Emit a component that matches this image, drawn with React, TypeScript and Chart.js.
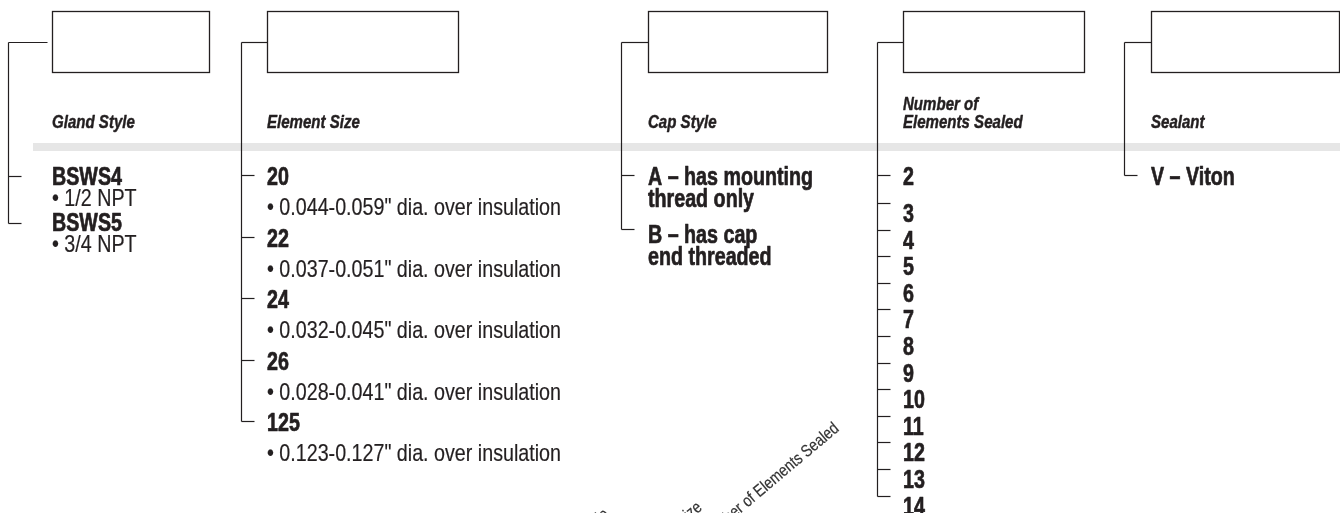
import React, { useEffect, useRef } from "react";
import { Chart, registerables } from "chart.js";

Chart.register(...registerables);

// ---------- content ----------
const headings: string[][] = [
  ["Gland Style"],
  ["Element Size"],
  ["Cap Style"],
  ["Number of", "Elements Sealed"],
  ["Sealant"],
];
const glandCodes = ["BSWS4", "BSWS5"];
const glandNotes = ["• 1/2 NPT", "• 3/4 NPT"];
const elementSizes = ["20", "22", "24", "26", "125"];
const elementNotes = [
  '• 0.044-0.059" dia. over insulation',
  '• 0.037-0.051" dia. over insulation',
  '• 0.032-0.045" dia. over insulation',
  '• 0.028-0.041" dia. over insulation',
  '• 0.123-0.127" dia. over insulation',
];
const capStyles: string[][] = [
  ["A – has mounting", "thread only"],
  ["B – has cap", "end threaded"],
];
const elementCounts = ["2", "3", "4", "5", "6", "7", "8", "9", "10", "11", "12", "13", "14"];
const sealants = ["V – Viton"];
const diagonalLabels = ["Gland Style", "Element Size", "Number of Elements Sealed"];

// ---------- layout (value space of the hidden scales) ----------
const W = 1340;
const H = 513;
const COL_LINE_X = [8, 241, 621, 877, 1124];
const BOX_LEFT = [52, 267, 648, 903, 1151];
const BOX_RIGHT = [209, 458, 827, 1084, 1339];
const LINK_END = [47, 267, 648, 903, 1151];
const BOX_TOP = 11;
const BOX_BOTTOM = 72;
const LINK_Y = 42;
const HEAD_BASE = 128;
const HEAD_LINE = 18;
const BAND_TOP = 143;
const BAND_H = 8;
const BAND_LEFT = 33;
const FIRST_BASE = 185;
const TICK_LEN = 13;

const GLAND_CODE_BASE = [185, 231];
const GLAND_NOTE_BASE = [206, 252];
const GLAND_TICK_Y = [176, 223];

const EL_STEP = 61.5;
const CAP_BASE = [185, 243];
const CAP_TICK_Y = [175, 229];
const CAP_LINE = 22;

const NUM_BASE = [185, 222, 248.6, 275.2, 301.8, 328.4, 355, 381.6, 408.2, 434.8, 461.4, 488, 514.6];
const DIAG_END: [number, number][] = [
  [610, 516],
  [703, 509],
  [840, 430],
];

const INK = "#231f20";

function hasFont(name: string): boolean {
  const c = document.createElement("canvas").getContext("2d");
  if (!c) return false;
  const t = "abcdefghijklmWWWiii0123456";
  c.font = "40px monospace";
  const a = c.measureText(t).width;
  c.font = `40px "${name}", monospace`;
  const b = c.measureText(t).width;
  return Math.abs(a - b) > 0.5;
}

export default function App() {
  const ref = useRef<HTMLCanvasElement | null>(null);

  useEffect(() => {
    document.body.style.margin = "0";
    const canvas = ref.current;
    if (!canvas) return;
    const narrow = hasFont("Liberation Sans Narrow");
    const family = narrow
      ? '"Liberation Sans Narrow", "Liberation Sans", Arial, sans-serif'
      : '"Liberation Sans", Arial, sans-serif';
    const SX = narrow ? 1 : 0.82;

    const diagram = {
      id: "orderDiagram",
      afterDraw(chart: any) {
        const ctx: CanvasRenderingContext2D = chart.ctx;
        const xs = chart.scales.x;
        const ys = chart.scales.y;
        const px = (v: number) => xs.getPixelForValue(v);
        const py = (v: number) => ys.getPixelForValue(v);
        const cx = (v: number) => Math.round(px(v)) + 0.5;
        const cy = (v: number) => Math.round(py(v)) + 0.5;

        const text = (
          s: string,
          x: number,
          y: number,
          font: string,
          opts: { sx?: number; sy?: number; stroke?: number; color?: string } = {}
        ) => {
          ctx.save();
          ctx.font = font;
          ctx.fillStyle = opts.color || INK;
          ctx.strokeStyle = opts.color || INK;
          ctx.textBaseline = "alphabetic";
          ctx.textAlign = "left";
          ctx.translate(px(x), py(y));
          ctx.scale(SX * (opts.sx ?? 1), opts.sy ?? 1);
          ctx.fillText(s, 0, 0);
          if (opts.stroke) {
            ctx.lineWidth = opts.stroke;
            ctx.lineJoin = "round";
            ctx.strokeText(s, 0, 0);
          }
          ctx.restore();
        };
        const hLine = (x1: number, x2: number, y: number) => {
          ctx.beginPath();
          ctx.moveTo(cx(x1), cy(y));
          ctx.lineTo(cx(x2), cy(y));
          ctx.stroke();
        };
        const vLine = (x: number, y1: number, y2: number) => {
          ctx.beginPath();
          ctx.moveTo(cx(x), cy(y1));
          ctx.lineTo(cx(x), cy(y2));
          ctx.stroke();
        };

        const bold = `bold 25px ${family}`;
        const boldOpt = { sx: 0.96, stroke: 0.7 };
        const reg = `24px ${family}`;
        const regOpt = { stroke: 0.2 };
        const head = `italic bold 18px ${family}`;
        const headOpt = { sx: 1.02, sy: 1.04, stroke: 0.45 };

        ctx.save();
        // grey band
        ctx.fillStyle = "#e6e6e6";
        ctx.fillRect(px(BAND_LEFT), py(BAND_TOP), px(W) - px(BAND_LEFT), py(BAND_TOP + BAND_H) - py(BAND_TOP));

        ctx.strokeStyle = INK;
        ctx.lineWidth = 1.3;

        // boxes and links
        for (let i = 0; i < 5; i++) {
          ctx.strokeRect(cx(BOX_LEFT[i]), cy(BOX_TOP), cx(BOX_RIGHT[i]) - cx(BOX_LEFT[i]), cy(BOX_BOTTOM) - cy(BOX_TOP));
        }
        ctx.lineWidth = 1.2;
        for (let i = 0; i < 5; i++) hLine(COL_LINE_X[i], LINK_END[i], LINK_Y);

        // Gland style
        vLine(COL_LINE_X[0], LINK_Y, GLAND_TICK_Y[GLAND_TICK_Y.length - 1]);
        glandCodes.forEach((_, i) => hLine(COL_LINE_X[0], COL_LINE_X[0] + TICK_LEN, GLAND_TICK_Y[i]));

        // Element size
        const elTick = elementSizes.map((_, i) => FIRST_BASE + i * EL_STEP - 10);
        vLine(COL_LINE_X[1], LINK_Y, elTick[elTick.length - 1]);
        elTick.forEach((t) => hLine(COL_LINE_X[1], COL_LINE_X[1] + TICK_LEN, t));

        // Cap style
        vLine(COL_LINE_X[2], LINK_Y, CAP_TICK_Y[CAP_TICK_Y.length - 1]);
        CAP_TICK_Y.forEach((t) => hLine(COL_LINE_X[2], COL_LINE_X[2] + TICK_LEN, t));

        // Number of elements
        const numTick = NUM_BASE.map((b, i) => (i === 0 ? b - 10 : b - 19));
        vLine(COL_LINE_X[3], LINK_Y, numTick[numTick.length - 1]);
        numTick.forEach((t) => hLine(COL_LINE_X[3], COL_LINE_X[3] + TICK_LEN, t));

        // Sealant
        vLine(COL_LINE_X[4], LINK_Y, FIRST_BASE - 10);
        hLine(COL_LINE_X[4], COL_LINE_X[4] + TICK_LEN, FIRST_BASE - 10);

        // headings
        headings.forEach((lines, i) => {
          const n = lines.length;
          lines.forEach((l, j) => text(l, BOX_LEFT[i], HEAD_BASE - (n - 1 - j) * HEAD_LINE, head, headOpt));
        });

        glandCodes.forEach((c, i) => {
          text(c, BOX_LEFT[0], GLAND_CODE_BASE[i], bold, boldOpt);
          text(glandNotes[i], BOX_LEFT[0], GLAND_NOTE_BASE[i], reg, regOpt);
        });
        elementSizes.forEach((s, i) => {
          const b = FIRST_BASE + i * EL_STEP;
          text(s, BOX_LEFT[1], b, bold, boldOpt);
          text(elementNotes[i], BOX_LEFT[1], b + 30, reg, regOpt);
        });
        capStyles.forEach((lines, i) => {
          lines.forEach((l, j) => text(l, BOX_LEFT[2], CAP_BASE[i] + j * CAP_LINE, bold, boldOpt));
        });
        elementCounts.forEach((s, i) => text(s, BOX_LEFT[3], NUM_BASE[i], bold, boldOpt));
        sealants.forEach((s, i) => text(s, BOX_LEFT[4], FIRST_BASE + i * 30, bold, boldOpt));

        // diagonal labels
        diagonalLabels.forEach((s, i) => {
          ctx.save();
          ctx.font = `17px ${family}`;
          ctx.fillStyle = "#333";
          ctx.strokeStyle = "#333";
          ctx.lineWidth = 0.2;
          ctx.textAlign = "right";
          ctx.textBaseline = "alphabetic";
          ctx.translate(px(DIAG_END[i][0]), py(DIAG_END[i][1]));
          ctx.rotate((-40 * Math.PI) / 180);
          ctx.scale(SX, 1);
          ctx.fillText(s, 0, 0);
          ctx.strokeText(s, 0, 0);
          ctx.restore();
        });

        ctx.restore();
      },
    };

    const chart = new Chart(canvas, {
      type: "scatter",
      data: { datasets: [{ data: [], pointRadius: 0 }] },
      options: {
        animation: false,
        responsive: false,
        maintainAspectRatio: false,
        devicePixelRatio: 1,
        layout: { padding: 0 },
        events: [],
        plugins: { legend: { display: false }, tooltip: { enabled: false } },
        scales: {
          x: { type: "linear", min: 0, max: W, display: false },
          y: { type: "linear", min: 0, max: H, reverse: true, display: false },
        },
      },
      plugins: [diagram],
    });
    return () => chart.destroy();
  }, []);

  return (
    <div style={{ position: "fixed", left: 0, top: 0, width: W, height: H, background: "#fff" }}>
      <canvas ref={ref} width={W} height={H} style={{ display: "block", width: W, height: H }} />
    </div>
  );
}
